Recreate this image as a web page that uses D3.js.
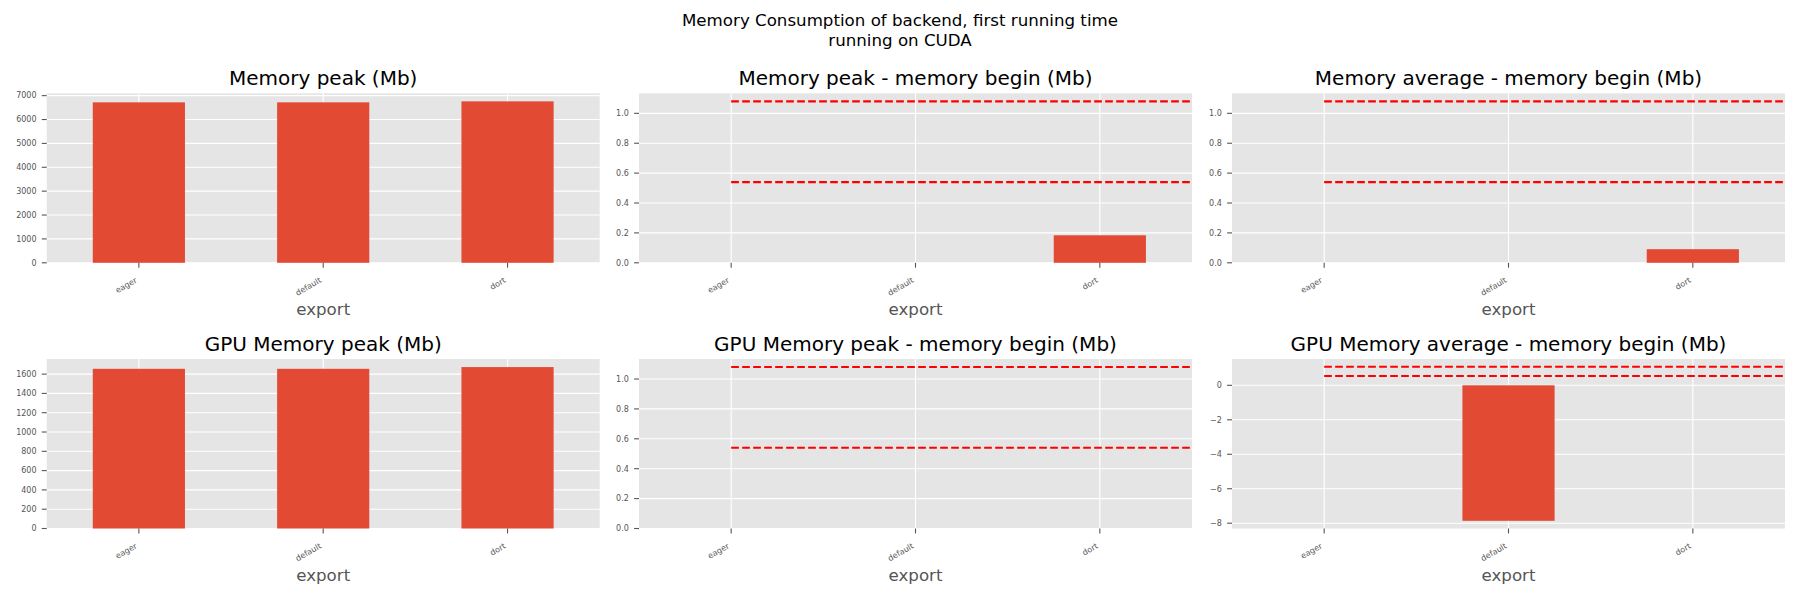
<!DOCTYPE html>
<html>
<head>
<meta charset="utf-8">
<script src="https://cdn.jsdelivr.net/npm/d3@7"></script>
<style>
  html, body { margin: 0; padding: 0; background: #ffffff; }
  svg { display: block; font-family: "DejaVu Sans", sans-serif; }
</style>
</head>
<body>
<svg id="chart" width="1800" height="600"></svg>
<script>
// ---------------- data ----------------
const categories = ["eager", "default", "dort"];
const suptitleLines = ["Memory Consumption of backend, first running time", "running on CUDA"];
const panelTitles = [
  "Memory peak (Mb)",
  "Memory peak - memory begin (Mb)",
  "Memory average - memory begin (Mb)",
  "GPU Memory peak (Mb)",
  "GPU Memory peak - memory begin (Mb)",
  "GPU Memory average - memory begin (Mb)"
];
const xLabel = "export";

const memPeak       = [6720, 6720, 6760];
const memPeakDelta  = [0, 0, 0.184];
const memAvgDelta   = [0, 0, 0.091];
const gpuPeak       = [1655, 1655, 1673];
const gpuPeakDelta  = [0, 0, 0];
const gpuAvgDelta   = [0, -7.86, 0];

const refLines = [1.08, 0.54];

const ticksMemPeak   = [0, 1000, 2000, 3000, 4000, 5000, 6000, 7000];
const ticksDelta     = [0.0, 0.2, 0.4, 0.6, 0.8, 1.0];
const ticksGpuPeak   = [0, 200, 400, 600, 800, 1000, 1200, 1400, 1600];
const ticksGpuAvg    = [-8, -6, -4, -2, 0];

// ---------------- layout ----------------
const colLeft = [46.7, 639, 1232];
const axW = 553;
const rowTop = [93.3, 359];
const axH = 169.5;

const BAR = "#E24A33";
const BG = "#E5E5E5";
const TXT = "#555555";

const panels = [
  {title: panelTitles[0], values: memPeak,      ticks: ticksMemPeak, fmt: d3.format("d"),   lines: false},
  {title: panelTitles[1], values: memPeakDelta, ticks: ticksDelta,   fmt: d3.format(".1f"), lines: true},
  {title: panelTitles[2], values: memAvgDelta,  ticks: ticksDelta,   fmt: d3.format(".1f"), lines: true},
  {title: panelTitles[3], values: gpuPeak,      ticks: ticksGpuPeak, fmt: d3.format("d"),   lines: false},
  {title: panelTitles[4], values: gpuPeakDelta, ticks: ticksDelta,   fmt: d3.format(".1f"), lines: true},
  {title: panelTitles[5], values: gpuAvgDelta,  ticks: ticksGpuAvg,  fmt: d3.format("d"),   lines: true}
];

const svg = d3.select("#chart");
svg.append("rect").attr("width", 1800).attr("height", 600).attr("fill", "#fff");

// suptitle
const sup = svg.append("text").attr("text-anchor", "middle").attr("font-size", 16.67).attr("fill", "#000");
suptitleLines.forEach((t, i) => {
  sup.append("tspan").attr("x", 900).attr("y", 25.5 + i * 20.5).text(t);
});

const defs = svg.append("defs");

panels.forEach((p, idx) => {
  const r = Math.floor(idx / 3), c = idx % 3;
  const left = colLeft[c], top = rowTop[r];

  // matplotlib-like autoscale with 5% margins, sticky at 0 for bars
  let ext = [0, ...p.values];
  if (p.lines) ext = ext.concat(refLines);
  const dmin = d3.min(ext), dmax = d3.max(ext);
  const span = dmax - dmin;
  let lo = dmin - 0.05 * span, hi = dmax + 0.05 * span;
  if (dmin === 0) lo = 0;
  if (dmax === 0) hi = 0;

  const x = d3.scaleLinear().domain([-0.5, categories.length - 0.5]).range([left, left + axW]);
  const y = d3.scaleLinear().domain([lo, hi]).range([top + axH, top]);

  const g = svg.append("g");
  const clipId = "clip" + idx;
  defs.append("clipPath").attr("id", clipId)
    .append("rect").attr("x", left).attr("y", top).attr("width", axW).attr("height", axH);

  g.append("rect").attr("x", left).attr("y", top).attr("width", axW).attr("height", axH).attr("fill", BG);

  // grid
  g.selectAll(".hg").data(p.ticks).enter().append("line")
    .attr("x1", left).attr("x2", left + axW)
    .attr("y1", d => y(d)).attr("y2", d => y(d))
    .attr("stroke", "#fff").attr("stroke-width", 1.1);
  g.selectAll(".vg").data(categories).enter().append("line")
    .attr("x1", (d, i) => x(i)).attr("x2", (d, i) => x(i))
    .attr("y1", top).attr("y2", top + axH)
    .attr("stroke", "#fff").attr("stroke-width", 1.1);

  // bars
  g.selectAll(".bar").data(p.values).enter().append("rect")
    .attr("x", (d, i) => x(i - 0.25))
    .attr("width", x(0.25) - x(-0.25))
    .attr("y", d => y(Math.max(0, d)))
    .attr("height", d => Math.abs(y(0) - y(d)))
    .attr("fill", BAR);

  // reference dashed lines
  if (p.lines) {
    g.append("g").attr("clip-path", `url(#${clipId})`)
      .selectAll("line").data(refLines).enter().append("line")
      .attr("x1", x(0)).attr("x2", x(categories.length - 0.5))
      .attr("y1", d => y(d)).attr("y2", d => y(d))
      .attr("stroke", "#FF0000").attr("stroke-width", 2.08)
      .attr("stroke-dasharray", "7.7,3.3");
  }

  // y ticks
  const yt = g.selectAll(".yt").data(p.ticks).enter().append("g");
  yt.append("line")
    .attr("x1", left - 4.9).attr("x2", left)
    .attr("y1", d => y(d)).attr("y2", d => y(d))
    .attr("stroke", TXT).attr("stroke-width", 1.1);
  yt.append("text")
    .attr("x", left - 10.2).attr("y", d => y(d)).attr("dy", "0.35em")
    .attr("text-anchor", "end").attr("font-size", 8).attr("fill", TXT)
    .text(d => p.fmt(d));

  // x ticks
  const bottom = top + axH;
  const xt = g.selectAll(".xt").data(categories).enter().append("g");
  xt.append("line")
    .attr("x1", (d, i) => x(i)).attr("x2", (d, i) => x(i))
    .attr("y1", bottom).attr("y2", bottom + 4.9)
    .attr("stroke", TXT).attr("stroke-width", 1.1);
  xt.append("text")
    .attr("text-anchor", "end").attr("font-size", 8).attr("fill", TXT)
    .attr("transform", (d, i) => `translate(${x(i) - 1.3},${bottom + 19}) rotate(-30)`)
    .text(d => d);

  // axis label
  g.append("text").attr("x", left + axW / 2).attr("y", bottom + 52)
    .attr("text-anchor", "middle").attr("font-size", 16.67).attr("fill", TXT)
    .text(xLabel);

  // title
  g.append("text").attr("x", left + axW / 2).attr("y", top - 8.3)
    .attr("text-anchor", "middle").attr("font-size", 20).attr("fill", "#000")
    .text(p.title);
});
</script>
</body>
</html>
